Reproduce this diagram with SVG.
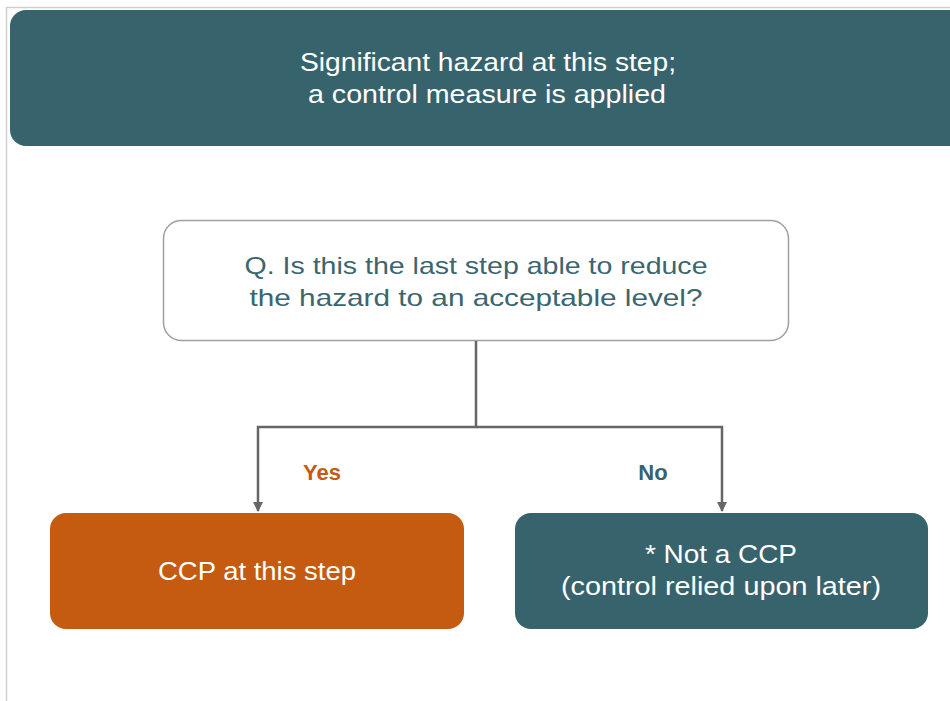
<svg xmlns="http://www.w3.org/2000/svg" width="950" height="701" viewBox="0 0 950 701">
<style>
text{font-family:"Liberation Sans",Arial,sans-serif;text-anchor:middle}
.w{fill:#ffffff;font-size:25px}
.q{fill:#3b6670;font-size:24px}
.conn{stroke:#666666;stroke-width:2.5;fill:none}
</style>
<defs>
<marker id="arr" markerWidth="10" markerHeight="10" refX="9" refY="5" orient="auto" markerUnits="userSpaceOnUse" viewBox="0 0 10 10">
<path d="M0,0 L10,5 L0,10 Z" fill="#666666"/>
</marker>
</defs>
<rect width="950" height="701" fill="#ffffff"/>
<path d="M6.5,701 V7.5 H950" fill="none" stroke="#d0d0d0" stroke-width="1.5"/>
<g id="top">
<rect x="10" y="10" width="960" height="136" rx="16" fill="#37636d"/>
<text class="w" x="488" y="71" textLength="376" lengthAdjust="spacingAndGlyphs">Significant hazard at this step;</text>
<text class="w" x="487" y="103" textLength="358" lengthAdjust="spacingAndGlyphs">a control measure is applied</text>
</g>
<g id="question">
<rect x="163.5" y="220.5" width="625" height="120" rx="18" fill="#ffffff" stroke="#a0a0a0" stroke-width="1.5"/>
<text class="q" x="476" y="274" textLength="463" lengthAdjust="spacingAndGlyphs">Q.  Is this the last step able to reduce</text>
<text class="q" x="476" y="306" textLength="453" lengthAdjust="spacingAndGlyphs">the hazard to an acceptable level?</text>
</g>
<g id="connectors">
<path class="conn" d="M476,341 V427 H258 V511" marker-end="url(#arr)"/>
<path class="conn" d="M476,427 H722 V511" marker-end="url(#arr)"/>
<text x="322" y="480" style="font-size:22px;font-weight:bold;fill:#c55a11">Yes</text>
<text x="653" y="480" style="font-size:22px;font-weight:bold;fill:#37636d">No</text>
</g>
<g id="ccp">
<rect x="50" y="513" width="414" height="116" rx="16" fill="#c55a11"/>
<text class="w" x="257" y="580" textLength="198" lengthAdjust="spacingAndGlyphs">CCP at this step</text>
</g>
<g id="notccp">
<rect x="515" y="513" width="413" height="116" rx="16" fill="#37636d"/>
<text class="w" x="721" y="563" textLength="152" lengthAdjust="spacingAndGlyphs">* Not a CCP</text>
<text class="w" x="721" y="595" textLength="320" lengthAdjust="spacingAndGlyphs">(control relied upon later)</text>
</g>
</svg>
